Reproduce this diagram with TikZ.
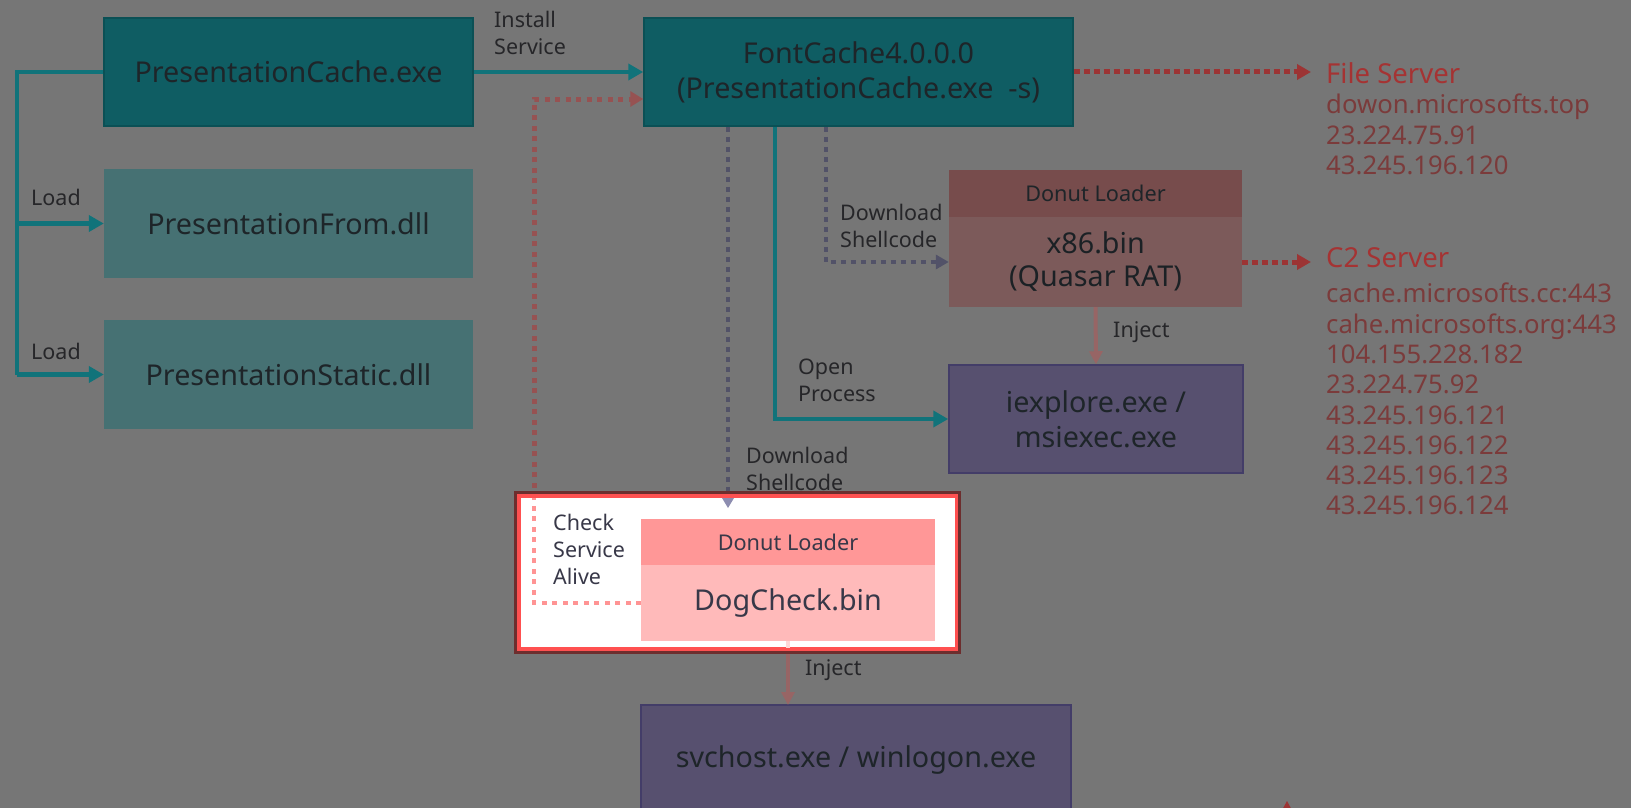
\documentclass[tikz,border=0pt]{standalone}
\usepackage{fontspec}
\setmainfont{Noto Sans}
\usetikzlibrary{arrows.meta}

\definecolor{bgc}{HTML}{767676}
\definecolor{tealD}{HTML}{0F5D63}
\definecolor{tealDB}{HTML}{0B5055}
\definecolor{tealL}{HTML}{467173}
\definecolor{tealLine}{HTML}{11737A}
\definecolor{redTxt}{HTML}{A53333}
\definecolor{ipTxt}{HTML}{7B3B3B}
\definecolor{redDot}{HTML}{9C3434}
\definecolor{grayDot}{HTML}{525268}
\definecolor{injLine}{HTML}{976565}
\definecolor{xH}{HTML}{774C4C}
\definecolor{xB}{HTML}{7C5A5A}
\definecolor{purp}{HTML}{57506F}
\definecolor{purpB}{HTML}{433D68}
\definecolor{boxTxt}{HTML}{1E2529}
\definecolor{lblTxt}{HTML}{262629}
\definecolor{frameDark}{HTML}{6D2E2E}
\definecolor{frameRed}{HTML}{FF5050}
\definecolor{dogH}{HTML}{FF9797}
\definecolor{dogB}{HTML}{FFBABA}
\definecolor{chkTxt}{HTML}{383848}
\definecolor{chkDotIn}{HTML}{FF9494}
\definecolor{chkDotOut}{HTML}{965252}
\definecolor{dlIn}{HTML}{8D8DB0}
\definecolor{injIn}{HTML}{FFD8D8}

\tikzset{
  boxfont/.style={font=\fontsize{28.7}{35}\selectfont, text=boxTxt, align=center},
  procbox/.style={boxfont, fill=tealD, draw=tealDB, line width=1.5pt, inner sep=0pt},
  dllbox/.style={boxfont, fill=tealL, inner sep=0pt},
  hostbox/.style={boxfont, fill=purp, draw=purpB, line width=1.5pt, inner sep=0pt},
  hdrfont/.style={font=\fontsize{21.7}{25}\selectfont},
  lbl/.style={font=\fontsize{21.5}{27}\selectfont, text=lblTxt, align=left, anchor=west, inner sep=0pt},
  srvtitle/.style={font=\fontsize{27.5}{30}\selectfont, text=redTxt, anchor=west, inner sep=0pt},
  srvlist/.style={font=\fontsize{25.7}{30.3}\selectfont, text=ipTxt, anchor=north west, inner sep=0pt, align=left},
  tealarrow/.style={draw=tealLine, line width=4.5pt, -{Triangle[length=15pt,width=16pt]}},
  reddots/.style={draw=redDot, line width=5pt, dash pattern=on 6pt off 4pt,
     -{Triangle[length=14pt,width=15pt]}},
  chkdots/.style={line width=5pt, dash pattern=on 5pt off 5.5pt},
  graydots/.style={draw=grayDot, line width=3.5pt, dash pattern=on 5pt off 5pt},
  injarrow/.style={draw=injLine, line width=4pt, -{Triangle[length=13pt,width=13pt]}},
}

\begin{document}
\begin{tikzpicture}[x=1pt, y=-1pt]
\useasboundingbox (0,0) rectangle (1631,808);
\fill[bgc] (0,0) rectangle (1631,808);

% loader and its libraries
\node[procbox, minimum width=369pt, minimum height=108pt] (pc) at (288.5,72) {PresentationCache.exe};
\node[dllbox, minimum width=369pt, minimum height=109pt] (pf) at (288.5,223.5) {PresentationFrom.dll};
\node[dllbox, minimum width=369pt, minimum height=109pt] (ps) at (288.5,374.5) {PresentationStatic.dll};

% installed service
\node[procbox, minimum width=429pt, minimum height=108pt] (fc) at (858.5,72)
  {FontCache4.0.0.0\\(PresentationCache.exe~~-s)};

% Quasar RAT shellcode
\node[boxfont, hdrfont, fill=xH, minimum width=293pt, minimum height=47pt, inner sep=0pt] (x86h) at (1095.5,193.5) {Donut Loader};
\node[boxfont, fill=xB, minimum width=293pt, minimum height=90pt, inner sep=0pt,
      text=boxTxt!90!black] (x86) at (1095.5,262) {x86.bin\\[-2pt](Quasar RAT)};

\node[hostbox, minimum width=294pt, minimum height=108pt] (ie) at (1096,419) {iexplore.exe /\\msiexec.exe};
\node[hostbox, minimum width=430pt, minimum height=115pt] (sv) at (856,762.5) {};
\node[boxfont, inner sep=0pt] (svt) at (856,760) {svchost.exe / winlogon.exe};

% servers
\node[srvtitle] (fs) at (1326,73) {File Server};
\node[srvlist] (fsl) at (1326,94) {dowon.microsofts.top\\23.224.75.91\\43.245.196.120};
\node[srvtitle] (c2) at (1326,258) {C2 Server};
\node[srvlist] (c2l) at (1326,283)
  {cache.microsofts.cc:443\\cahe.microsofts.org:443\\104.155.228.182\\23.224.75.92\\43.245.196.121\\43.245.196.122\\43.245.196.123\\43.245.196.124};

% loading of the libraries
\coordinate (busT) at (17,72);
\coordinate (busM) at (17,223.5);
\coordinate (busB) at (17,374.5);
\draw[draw=tealLine, line width=4.5pt] (pc.west) -- (busT) -- (busB);
\draw[tealarrow] (busM) -- (pf.west);
\draw[tealarrow] (busB) -- (ps.west);
\node[lbl] (ld1) at (31,197) {Load};
\node[lbl] (ld2) at (31,351) {Load};

% service installation
\draw[tealarrow] (pc.east) -- (fc.west);
\node[lbl] (inst) at (494,32.5) {Install\\Service};

% network traffic
\draw[reddots, shorten >=15pt] (fc.east) -- (fc.east -| fs.west);
\draw[reddots, shorten >=15pt] (x86.east) -- (x86.east -| c2.west);

% shellcode download to x86.bin
\coordinate (dlA) at (826,262);
\draw[graydots, -{Triangle[length=13pt,width=14pt]}] (fc.south -| dlA) -- (dlA) -- (x86.west);
\node[lbl] (dl1) at (840,225.5) {Download\\Shellcode};

% process creation
\coordinate (opA) at (775,419);
\draw[tealarrow] (fc.south -| opA) -- (opA) -- (ie.west);
\node[lbl] (op) at (798,380.5) {Open\\Process};

% injection of the RAT
\draw[injarrow] (x86.south) -- (ie.north);
\node[lbl] (inj1) at (1113,332) {Inject};

% shellcode download to DogCheck.bin
\coordinate (dlB) at (728,519);
\draw[graydots, -{Triangle[length=10pt,width=12pt]}, shorten >=11pt] (fc.south -| dlB) -- (dlB);
\node[lbl] (dl2) at (746,468.5) {Download\\Shellcode};

% watchdog check path
\coordinate (chkA) at (534,603);
\coordinate (chkB) at (534,99);
\draw[chkdots, draw=chkDotOut, -{Triangle[length=13pt,width=15pt]}]
  (chkA) -- (chkB) -- (fc.west |- chkB);

% injection of DogCheck
\draw[injarrow] (788,641) -- (788,705);
\node[lbl] (inj2) at (805,670) {Inject};

% highlighted watchdog frame
\fill[frameDark] (514,491) rectangle (961,654);
\fill[frameRed] (517,494) rectangle (958,651);
\fill[white] (521,498) rectangle (955,647);

\begin{scope}
  \clip (521,498) rectangle (955,647);
  \draw[chkdots, draw=chkDotIn, line width=4.5pt] (641,603) -- (chkA) -- (chkB);
  \fill[dlIn] (722,498) -- (734,498) -- (728,508) -- cycle;
  \draw[draw=injIn, line width=4pt] (788,641) -- (788,650);
\end{scope}

\node[boxfont, hdrfont, fill=dogH, minimum width=294pt, minimum height=46pt, inner sep=0pt,
      text=chkTxt] (dogh) at (788,542) {Donut Loader};
\node[boxfont, fill=dogB, minimum width=294pt, minimum height=76pt, inner sep=0pt,
      text=chkTxt] (dog) at (788,603) {DogCheck.bin};
\node[lbl, text=chkTxt] (chk) at (553,549) {Check\\Service\\Alive};

% arrow entering from below
\fill[redDot] (1287,801) -- (1281,812) -- (1293,812) -- cycle;
\end{tikzpicture}
\end{document}
